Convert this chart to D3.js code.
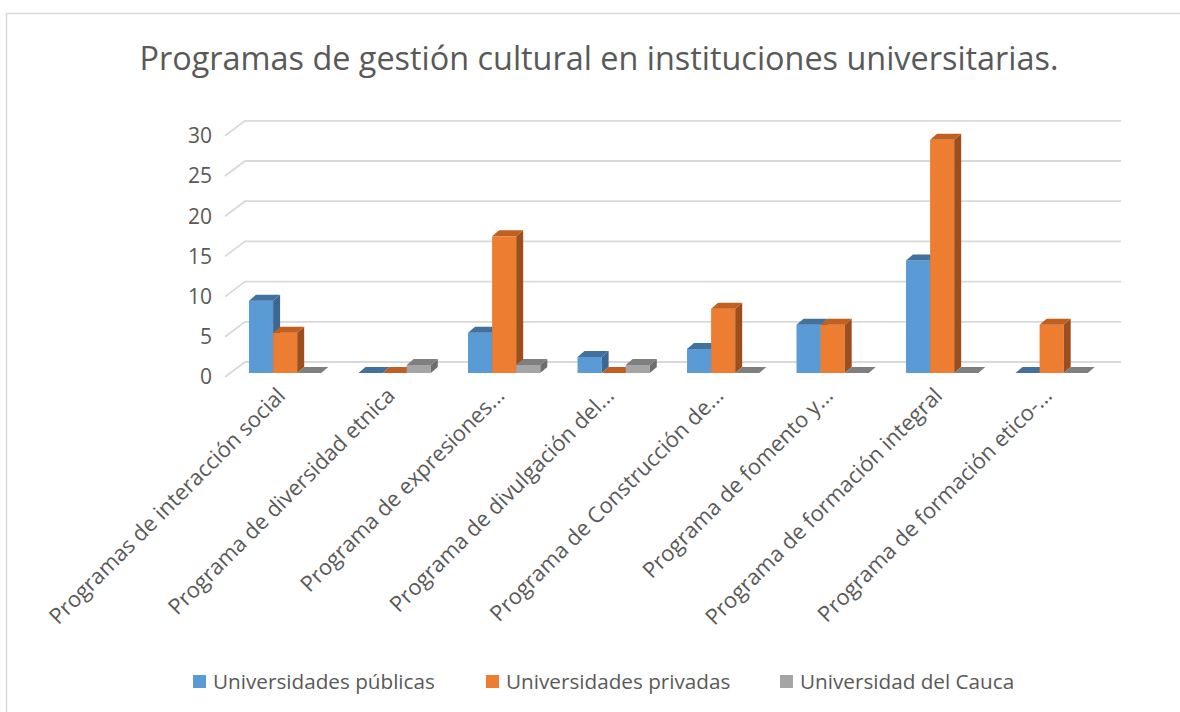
<!DOCTYPE html>
<html>
<head>
<meta charset="utf-8">
<script src="https://cdn.jsdelivr.net/npm/d3@7"></script>
<style>
  body { margin: 0; background: #fff; }
  svg { display: block; font-family: "Open Sans", sans-serif; }
</style>
</head>
<body>
<div id="container"></div>
<script>
const categories = [
  "Programas de interacción social",
  "Programa de diversidad etnica",
  "Programa de expresiones...",
  "Programa de divulgación del...",
  "Programa de Construcción de...",
  "Programa de fomento y...",
  "Programa de formación integral",
  "Programa de formación etico-..."
];
const seriesNames = ["Universidades públicas", "Universidades privadas", "Universidad del Cauca"];
const publicas = [9, 0, 5, 2, 3, 6, 14, 0];
const privadas = [5, 0, 17, 0, 8, 6, 29, 6];
const cauca = [0, 1, 1, 1, 0, 0, 0, 0];
const yTicks = [0, 5, 10, 15, 20, 25, 30];

const seriesValues = [publicas, privadas, cauca];
const colors = [
  { front: "#5b9bd5", top: "#41719c", side: "#3b6791" },
  { front: "#ed7d31", top: "#c05f1f", side: "#9e4e1c" },
  { front: "#a5a5a5", top: "#7f7f7f", side: "#6e6e6e" }
];

const width = 1180;
const height = 712;

// back wall of the 3D plot and depth offsets
const back = { left: 245, right: 1121, bottom: 362 };
const depth = { dx: 20, dy: 15 };      // front plane offset
const barShift = { dx: 14.6, dy: 11 }; // front face of bars vs back wall
const barDepth = { dx: 7, dy: 6 };

const svg = d3.select("#container").append("svg")
  .attr("width", width)
  .attr("height", height);

// outer chart border (only top/left visible in the crop)
svg.append("path")
  .attr("d", `M6.5,${height}V13.5H${width}`)
  .attr("fill", "none")
  .attr("stroke", "#d9d9d9")
  .attr("stroke-width", 1.5);

const x = d3.scaleBand()
  .domain(categories)
  .range([back.left, back.right]);

const barW = x.bandwidth() * 0.22;
const x1 = d3.scaleBand()
  .domain(seriesNames)
  .range([(x.bandwidth() - 3 * barW) / 2, (x.bandwidth() + 3 * barW) / 2]);

const y = d3.scaleLinear()
  .domain([0, 30])
  .range([back.bottom, back.bottom - 30 * 8.04]);

// gridlines: back wall line + diagonal on the side wall
const grid = svg.append("g").attr("class", "grid")
  .attr("stroke", "#d9d9d9")
  .attr("stroke-width", 1.8)
  .attr("fill", "none");

grid.selectAll("path")
  .data(yTicks)
  .join("path")
  .attr("d", d => `M${back.left - depth.dx},${y(d) + depth.dy}L${back.left},${y(d)}H${back.right}`);

// y tick labels on the front plane
svg.append("g")
  .selectAll("text")
  .data(yTicks)
  .join("text")
  .attr("x", 212)
  .attr("y", d => y(d) + depth.dy)
  .attr("dy", "0.35em")
  .attr("text-anchor", "end")
  .attr("fill", "#595959")
  .style("font-size", "21px")
  .text(d => d);

// bars, drawn left to right so right neighbours cover the side faces
const bars = [];
categories.forEach((c, i) => {
  seriesNames.forEach((s, j) => {
    bars.push({ cat: c, series: j, value: seriesValues[j][i] });
  });
});

const barG = svg.append("g").attr("class", "bars");

bars.forEach(b => {
  const x0 = x(b.cat) + x1(seriesNames[b.series]) - barShift.dx;
  const xR = x0 + barW;
  const yB = y(0) + barShift.dy;
  const yT = y(b.value) + barShift.dy;
  const c = colors[b.series];
  const g = barG.append("g");
  // front face
  if (b.value > 0) {
    g.append("rect")
      .attr("x", x0).attr("y", yT)
      .attr("width", barW).attr("height", yB - yT)
      .attr("fill", c.front);
  }
  // side face
  g.append("path")
    .attr("d", `M${xR},${yT}L${xR + barDepth.dx},${yT - barDepth.dy}L${xR + barDepth.dx},${yB - barDepth.dy}L${xR},${yB}Z`)
    .attr("fill", c.side);
  // top face
  g.append("path")
    .attr("d", `M${x0},${yT}L${x0 + barDepth.dx},${yT - barDepth.dy}L${xR + barDepth.dx},${yT - barDepth.dy}L${xR},${yT}Z`)
    .attr("fill", c.top);
});

// category labels, rotated
svg.append("g")
  .selectAll("text")
  .data(categories)
  .join("text")
  .attr("transform", d => `translate(${x(d) + x.bandwidth() / 2 - 13},${397}) rotate(-45)`)
  .attr("text-anchor", "end")
  .attr("fill", "#595959")
  .style("font-size", "21.8px")
  .text(d => d);

// title
svg.append("text")
  .attr("x", 599)
  .attr("y", 70)
  .attr("text-anchor", "middle")
  .attr("fill", "#595959")
  .style("font-size", "32.4px")
  .text("Programas de gestión cultural en instituciones universitarias.");

// legend
const legendX = [193, 486, 780];
const legend = svg.append("g")
  .selectAll("g")
  .data(seriesNames)
  .join("g")
  .attr("transform", (d, i) => `translate(${legendX[i]},675)`);

legend.append("rect")
  .attr("width", 13).attr("height", 13)
  .attr("fill", (d, i) => colors[i].front);

legend.append("text")
  .attr("x", 20)
  .attr("y", 14)
  .attr("fill", "#595959")
  .style("font-size", "20.7px")
  .text(d => d);
</script>
</body>
</html>
